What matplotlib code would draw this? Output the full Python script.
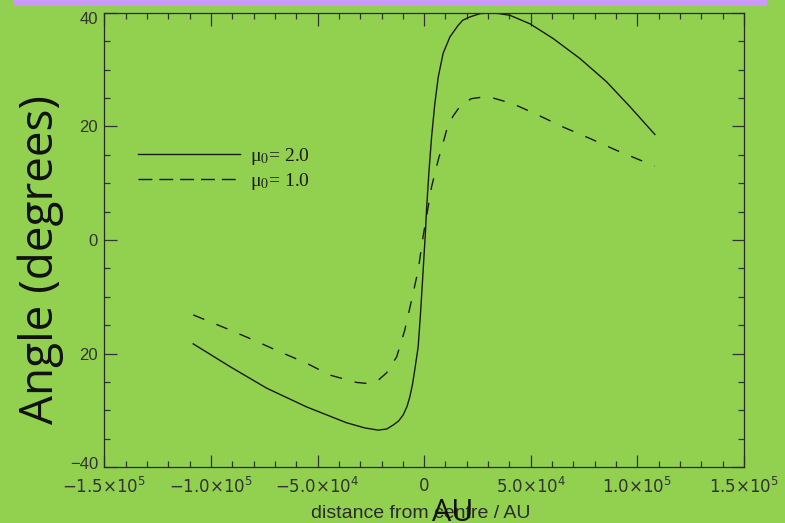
import matplotlib
matplotlib.use("Agg")
import matplotlib.pyplot as plt
from matplotlib.patches import Rectangle
from matplotlib.lines import Line2D
from matplotlib.ticker import MultipleLocator, FixedLocator
from matplotlib.transforms import ScaledTranslation

plt.rcParams['mathtext.fontset'] = 'custom'
plt.rcParams['mathtext.rm'] = 'Liberation Sans'
plt.rcParams['mathtext.it'] = 'Liberation Sans:italic'

# ---- data ----
x_mu2 = [-108300, -91100, -73900, -55200, -36400, -28000, -21600, -17500, -14500,
         -12000, -9800, -8000, -6700, -5500, -4400, -2800, -1700, -750, 650, 1100,
         2300, 3500, 5000, 6600, 8900, 12100, 15900, 18000, 21400, 26300, 31000,
         35000, 40200, 49600, 60500, 73000, 85500, 96500, 108200]
y_mu2 = [-18.3, -22.3, -26.1, -29.4, -32.2, -33.1, -33.5, -33.3, -32.6,
         -31.9, -30.8, -29.3, -27.6, -25.5, -22.9, -18.8, -12.9, -7.1, 1.7, 5.3,
         12.3, 18.2, 24.0, 28.7, 32.9, 35.8, 37.8, 38.7, 39.3, 39.9, 40.0,
         39.9, 39.6, 38.1, 35.5, 32.0, 27.9, 23.5, 18.6]

x_mu1 = [-108300, -92700, -80200, -67700, -55200, -44200, -31700, -26000, -21500,
         -17600, -12900, -9100, -5900, -2800, -500, 1100, 3500, 6600, 10500,
         13500, 16700, 22000, 27700, 31600, 41700, 53500, 65200, 77700, 90200,
         105000, 108000]
y_mu1 = [-13.2, -15.6, -17.6, -19.7, -21.7, -23.8, -25.1, -25.3, -24.7,
         -23.4, -20.6, -15.9, -10.6, -5.3, 0.6, 4.1, 9.4, 14.1, 19.3,
         21.8, 23.5, 24.9, 25.2, 25.1, 24.0, 22.0, 19.9, 17.9, 15.8,
         13.5, 13.0]

labels = [r'μ$_0$= 2.0', r'μ$_0$= 1.0']
xticks = [-150000, -100000, -50000, 0, 50000, 100000, 150000]
xtick_labels = [r'$\mathregular{-1.5{\times}10^5}$', r'$\mathregular{-1.0{\times}10^5}$',
                r'$\mathregular{-5.0{\times}10^4}$', r'$\mathregular{0}$',
                r'$\mathregular{5.0{\times}10^4}$', r'$\mathregular{1.0{\times}10^5}$',
                r'$\mathregular{1.5{\times}10^5}$']
yticks = [-40, -20, 0, 20, 40]
ytick_labels = ['\u221240', '20', '0', '20', '40']

GREEN = '#92D050'
INK = '#1a1a1a'
TICK = '#333333'

fig = plt.figure(figsize=(7.85, 5.23), dpi=100, facecolor=GREEN)
fig.patches.append(Rectangle((14 / 785, 1 - 6 / 523), (767 - 14) / 785, 6 / 523 + 0.01,
                             transform=fig.transFigure, facecolor='#C99BF7',
                             edgecolor='none', zorder=0))

ax = fig.add_axes([104.3 / 785, (523 - 467) / 523, 639.7 / 785, 454 / 523])
ax.set_facecolor(GREEN)

ax.plot(x_mu2, y_mu2, color=INK, lw=1.0, solid_joinstyle='round')
ax.plot(x_mu1, y_mu1, color=INK, lw=1.0, dashes=(8.6, 9.4))

ax.set_xlim(-150000, 150000)
ax.set_ylim(-40, 40)

ax.xaxis.set_major_locator(FixedLocator(xticks))
ax.set_xticklabels(xtick_labels)
ax.xaxis.set_minor_locator(MultipleLocator(10000))
ax.yaxis.set_major_locator(FixedLocator(yticks))
ax.set_yticklabels(ytick_labels, fontfamily='Liberation Sans')
ax.yaxis.set_minor_locator(MultipleLocator(5))

ax.tick_params(which='both', direction='in', top=True, right=True, color=TICK,
               labelcolor=TICK, width=0.9)
ax.tick_params(which='major', length=9, labelsize=12)
ax.tick_params(which='minor', length=4.5)
ax.tick_params(axis='x', which='major', pad=7)
ax.tick_params(axis='y', which='major', pad=4.5)
for s in ax.spines.values():
    s.set_color('#2a2a2a')
    s.set_linewidth(0.9)

# end labels on the y axis sit slightly inside the frame in the reference
ylabs = ax.get_yticklabels()
ylabs[0].set_transform(ylabs[0].get_transform() + ScaledTranslation(0, 4 / 100, fig.dpi_scale_trans))
ylabs[-1].set_transform(ylabs[-1].get_transform() + ScaledTranslation(0, -5 / 100, fig.dpi_scale_trans))

handles = [Line2D([], [], color=INK, lw=1.0),
           Line2D([], [], color=INK, lw=1.0, dashes=(10, 5))]
leg = ax.legend(handles, labels, loc='upper left', bbox_to_anchor=(0.0527, 0.707),
                frameon=False, handlelength=5.25, handletextpad=0.5, labelspacing=0.2,
                borderpad=0, borderaxespad=0,
                prop={'family': 'Liberation Serif', 'size': 14})
for t in leg.get_texts():
    t.set_math_fontfamily('stix')
    t.set_color('#1a1a1a')

fig.text(41 / 785, 1 - 259 / 523, 'Angle (degrees)', rotation=90, ha='center',
         va='center', fontfamily='Open Sans', fontsize=33, color='#111111')
fig.text(421 / 785, 1 - 513 / 523, 'distance from centre / AU', ha='center',
         va='center', fontfamily='Liberation Sans', fontsize=14, color='#2a2a2a')
fig.text(453 / 785, 1 - 513 / 523, 'AU', ha='center', va='center',
         fontfamily='Open Sans', fontsize=22, color='#111111')

fig.savefig('out.png', dpi=100, facecolor=GREEN)
